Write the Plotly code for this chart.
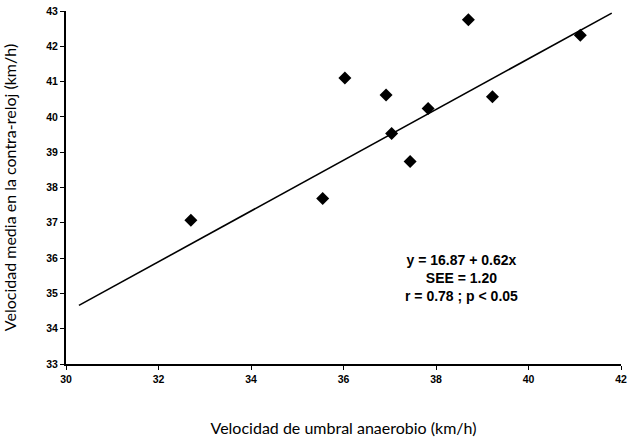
import plotly.graph_objects as go

# Data
umbral_x = [32.70, 35.55, 36.03, 36.92, 37.04, 37.44, 37.83, 38.70, 39.22, 41.12]
crono_y = [37.07, 37.69, 41.10, 40.62, 39.53, 38.74, 40.24, 42.75, 40.57, 42.31]

# Regression line endpoints as drawn
fit_x = [30.28, 41.80]
fit_y = [34.66, 42.94]

x_ticks = [30, 32, 34, 36, 38, 40, 42]
y_ticks = [33, 34, 35, 36, 37, 38, 39, 40, 41, 42, 43]

fig = go.Figure()
fig.add_trace(go.Scatter(x=fit_x, y=fit_y, mode="lines",
                         line=dict(color="black", width=1.6), showlegend=False))
fig.add_trace(go.Scatter(x=umbral_x, y=crono_y, mode="markers",
                         marker=dict(symbol="diamond", size=10, color="black"),
                         showlegend=False))

fig.add_annotation(x=38.55, y=35.45, xref="x", yref="y",
                   text="<b>y = 16.87 + 0.62x<br>SEE = 1.20<br>r = 0.78 ; p < 0.05</b>",
                   showarrow=False, align="center",
                   font=dict(family="Liberation Sans, Arial", size=14, color="black"))

tickfont = dict(family="Liberation Sans, Arial", size=10.5, color="black")
titlefont = dict(family="Lato, sans-serif", size=16, color="black")

fig.update_layout(
    width=627, height=439,
    margin=dict(l=66, r=6, t=11, b=75),
    paper_bgcolor="white", plot_bgcolor="white",
    xaxis=dict(range=[30, 42], tickvals=x_ticks, ticktext=[f"<b>{v}</b>" for v in x_ticks],
               showgrid=False, zeroline=False, showline=True, linecolor="black",
               linewidth=2, ticks="outside", ticklen=4, tickcolor="black",
               tickfont=tickfont, automargin=False,
               title=dict(text="Velocidad de umbral anaerobio (km/h)", font=titlefont,
                          standoff=39)),
    yaxis=dict(range=[33, 43], tickvals=y_ticks, ticktext=[f"<b>{v}</b>" for v in y_ticks],
               showgrid=False, zeroline=False, showline=True, linecolor="black",
               linewidth=2, ticks="outside", ticklen=4, tickcolor="black",
               tickfont=tickfont, automargin=False,
               title=dict(text="Velocidad media en la contra-reloj (km/h)", font=titlefont,
                          standoff=29)),
)

fig.write_html("out.html", config={"displayModeBar": False},
               post_script="document.body.style.margin='0';document.body.style.overflow='hidden';")
